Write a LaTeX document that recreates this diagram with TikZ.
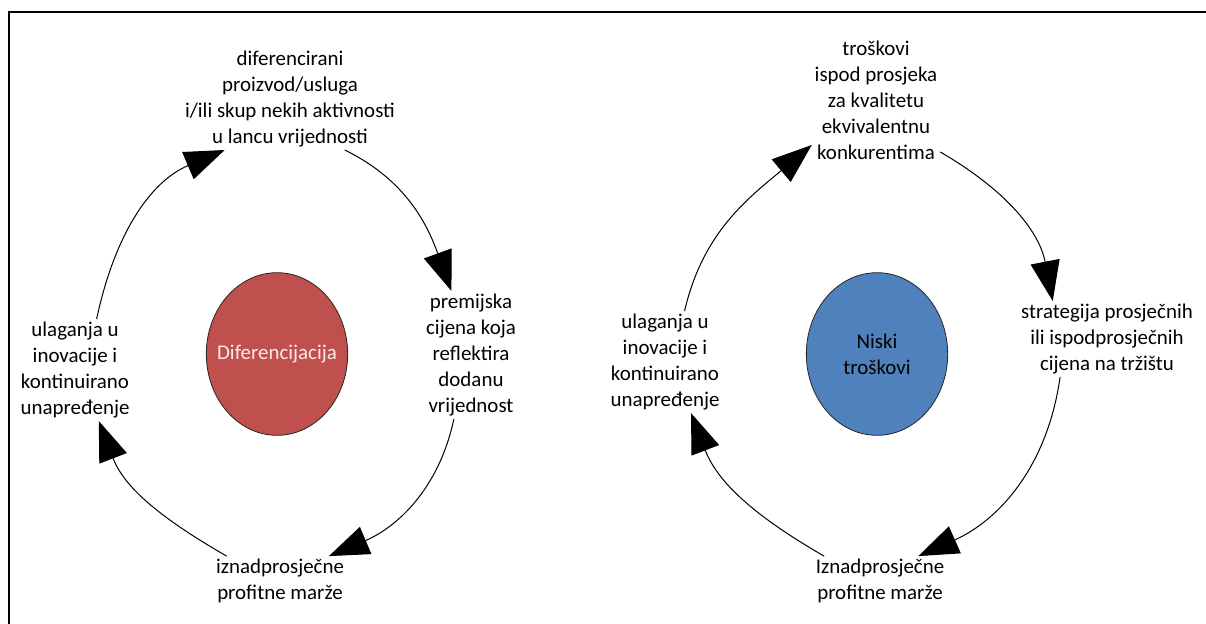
\documentclass[tikz,border=0pt]{standalone}
\usepackage{fontspec}
\setmainfont{Carlito}
\usepackage{xcolor}
\usepackage{tikz}
\usetikzlibrary{arrows.meta,shapes.geometric}

\definecolor{diffred}{HTML}{C0504D}
\definecolor{lowblue}{HTML}{4F81BD}
\definecolor{palepink}{HTML}{FBE9E9}

\begin{document}
\begin{tikzpicture}[x=0.75pt, y=0.75pt,
   every node/.style={font=\fontsize{15.7}{19.5}\selectfont, align=center, inner sep=2pt},
   core/.style={ellipse, draw=black!85, line width=0.6pt, minimum width=106pt, minimum height=122pt, inner sep=0pt},
   cyc/.style={-{Triangle[length=30pt,width=22pt]}, line width=0.75pt}]
   \useasboundingbox (0,0) rectangle (1206,-624);
   \draw[line width=1.5pt] (9,-624) -- (9,-12) -- (1206,-12);

   % diferencijacija
   \node[core, fill=diffred, label={[text=palepink]center:Diferencijacija}] (d) at (277,-354) {};
   \node (dt) at (290,-99) {diferencirani\\proizvod/usluga\\i/ili skup nekih aktivnosti\\u lancu vrijednosti};
   \node (dr) at (471,-355) {premijska\\cijena koja\\reflektira\\dodanu\\vrijednost};
   \node (db) at (280,-581) {iznadprosječne\\profitne marže};
   \node (dl) at (75,-370) {ulaganja u\\inovacije i\\kontinuirano\\unapređenje};

   \draw[cyc] (dl.67) to[out=78,in=203] (dt.-142);
   \draw[cyc] (dt.-43) to[out=-26,in=110] (dr.107);
   \draw[cyc] (dr.-105) to[out=-102,in=23] (db.27);
   \draw[cyc] (db.155) to[out=150,in=291] (dl.-65);

   % niski troskovi
   \node[core, fill=lowblue, label={[align=center]center:Niski\\troškovi}] (n) at (877,-354) {};
   \node (nt) at (876,-100) {troškovi\\ispod prosjeka\\za kvalitetu\\ekvivalentnu\\konkurentima};
   \node (nr) at (1107,-339) {strategija prosječnih\\ili ispodprosječnih\\cijena na tržištu};
   \node (nb) at (880,-581) {Iznadprosječne\\profitne marže};
   \node (nl) at (665,-362) {ulaganja u\\inovacije i\\kontinuirano\\unapređenje};

   \draw[cyc] (nl.69) to[out=77,in=220] (nt.-145);
   \draw[cyc] (nt.-39) to[out=-30,in=101] (nr.145);
   \draw[cyc] (nr.-141) to[out=-98,in=24] (nb.33);
   \draw[cyc] (nb.156) to[out=150,in=291] (nl.-63);
\end{tikzpicture}
\end{document}
